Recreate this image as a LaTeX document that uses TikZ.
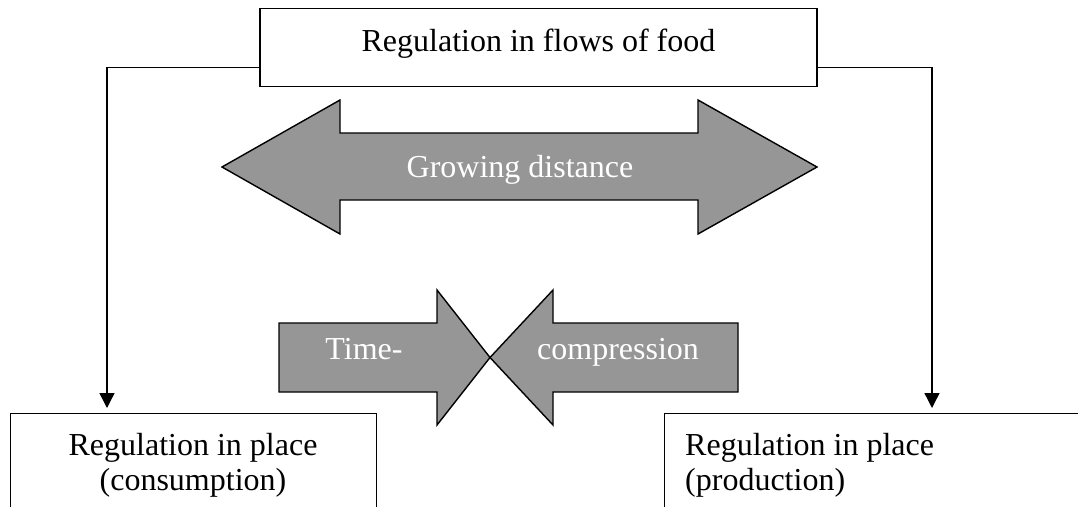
\documentclass[tikz,border=0pt]{standalone}
\usepackage{fontspec}
\setmainfont{Liberation Serif}
\usetikzlibrary{arrows.meta,calc}
\definecolor{arrgray}{RGB}{150,150,150}
\begin{document}
\begin{tikzpicture}[x=1pt,y=-1pt,
  box/.style={draw=black,line width=1.4pt,fill=white,inner sep=0pt},
  bigarrow/.style={draw=black,line width=1.4pt,fill=arrgray,line join=miter},
  conn/.style={line width=1.4pt,-{Triangle[width=15pt,length=15pt]}},
  lbl/.style={font=\fontsize{32}{35}\selectfont,inner sep=0pt,anchor=base},
  wlbl/.style={lbl,text=white}]
\useasboundingbox (0,0) rectangle (1078,506);
\clip (0,0) rectangle (1078,506);
\fill[white] (0,0) rectangle (1078,506);

% top box
\node[box,anchor=north,minimum width=557pt,text height=43pt,text depth=35pt,
  font=\fontsize{32}{35}\selectfont] (top) at (538.5,8) {Regulation in flows of food};

% bottom boxes (cut by the picture's lower edge)
\node[box,anchor=north west,minimum width=366pt,minimum height=150pt] (lbox) at (10,413) {};
\node[box,anchor=north west,minimum width=500pt,minimum height=150pt] (rbox) at (664,413) {};
\node[lbl] (l1) at (193,455) {Regulation in place};
\node[lbl] (l2) at (193,490) {(consumption)};
\node[lbl,anchor=base west] (r1) at (685,455) {Regulation in place};
\node[lbl,anchor=base west] (r2) at (685,490) {(production)};

% connectors
\coordinate (lc) at ($(top.west)+(0,20)$);
\coordinate (rc) at ($(top.east)+(0,20)$);
\coordinate (la) at (107,408);
\coordinate (ra) at (932,408);
\draw[conn] (lc) -| (la);
\draw[conn] (rc) -| (ra);

% growing distance double arrow
\draw[bigarrow] (222,167) -- (340,100) -- (340,133) -- (698,133) -- (698,100)
  -- (817,167) -- (698,234) -- (698,200) -- (340,200) -- (340,234) -- cycle;
\node[wlbl] (gd) at (520,177) {Growing distance};

% time-compression arrows
\draw[bigarrow] (279,323) -- (437,323) -- (437,290) -- (490,357.5) -- (437,425)
  -- (437,392) -- (279,392) -- cycle;
\draw[bigarrow] (738,323) -- (553,323) -- (553,290) -- (490,357.5) -- (553,425)
  -- (553,392) -- (738,392) -- cycle;
\node[wlbl] (tm) at (364,359) {Time-};
\node[wlbl,anchor=base west] (cp) at (537,359) {compression};
\end{tikzpicture}
\end{document}
